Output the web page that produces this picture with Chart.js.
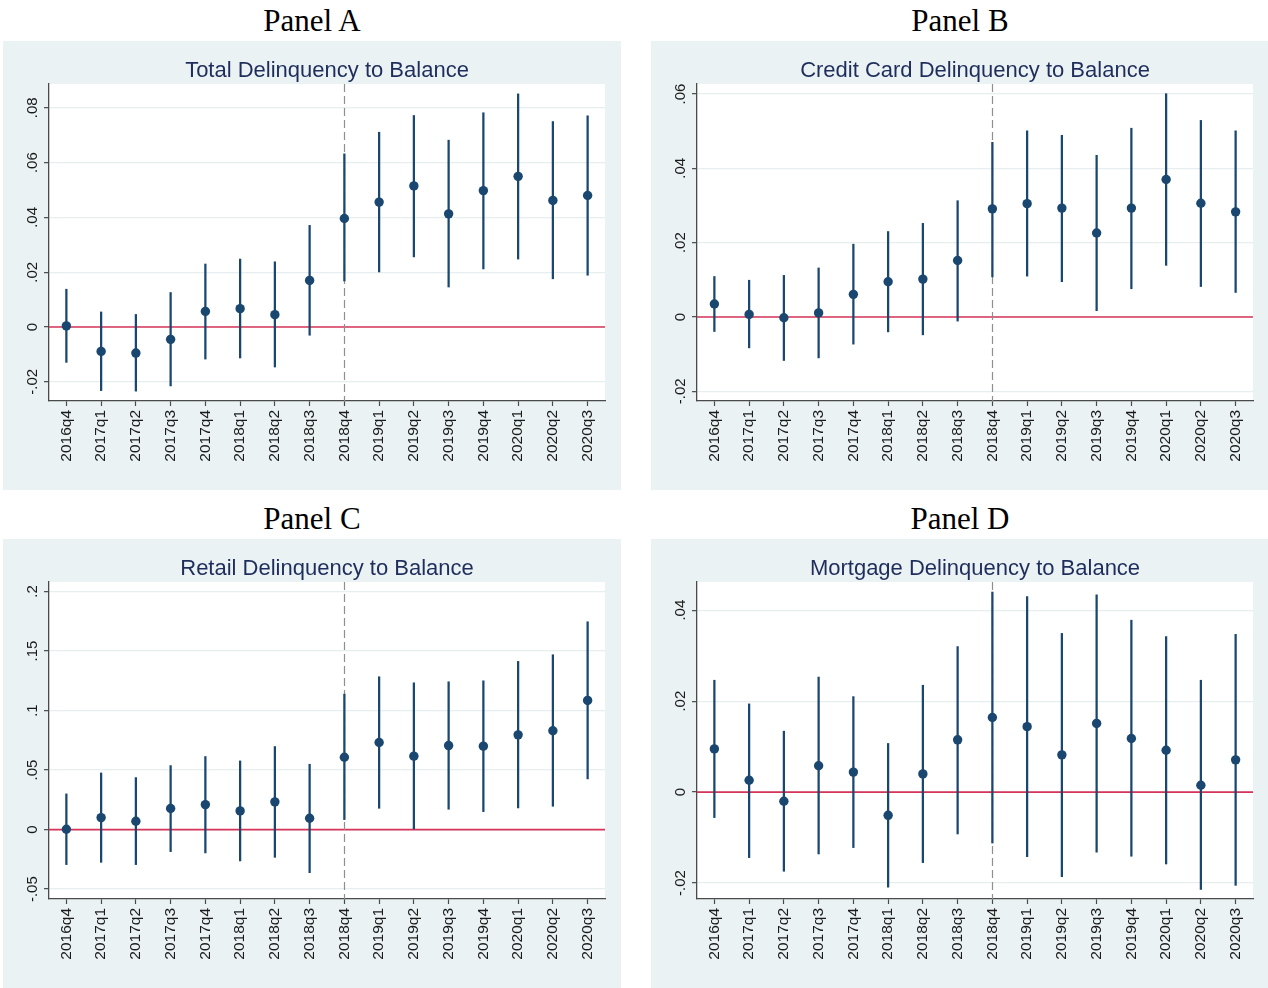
<!DOCTYPE html>
<html>
<head>
<meta charset="utf-8">
<script src="https://cdn.jsdelivr.net/npm/chart.js@4.4.1/dist/chart.umd.min.js"></script>
<style>
  html, body { margin: 0; padding: 0; background: #ffffff; overflow: hidden; }
  body { width: 1268px; height: 988px; position: relative; }
  .panel { position: absolute; width: 618px; height: 449px; background: #EAF2F3; }
  .panel canvas { display: block; }
  .plabel {
    position: absolute; width: 618px; text-align: center;
    font-family: "Liberation Serif", "Times New Roman", serif;
    font-size: 31px; line-height: 31px; color: #000;
  }
</style>
</head>
<body>
<div class="plabel" style="left:3px; top:5px;">Panel A</div>
<div class="plabel" style="left:651px; top:5px;">Panel B</div>
<div class="plabel" style="left:3px; top:503px;">Panel C</div>
<div class="plabel" style="left:651px; top:503px;">Panel D</div>

<div class="panel" style="left:3px; top:41px;"><canvas id="cA" width="618" height="449"></canvas></div>
<div class="panel" style="left:651px; top:41px;"><canvas id="cB" width="618" height="449"></canvas></div>
<div class="panel" style="left:3px; top:539px;"><canvas id="cC" width="618" height="449"></canvas></div>
<div class="panel" style="left:651px; top:539px;"><canvas id="cD" width="618" height="449"></canvas></div>

<script>
// Quarters on the horizontal axis
const quarters = ['2016q4','2017q1','2017q2','2017q3','2017q4','2018q1','2018q2','2018q3',
                  '2018q4','2019q1','2019q2','2019q3','2019q4','2020q1','2020q2','2020q3'];
const eventQuarter = '2018q4';

// Total delinquency to balance: point estimates and confidence bounds
const totalEst = [0.0004, -0.0089, -0.0095, -0.0045, 0.0057, 0.0067, 0.0045, 0.0170,
                  0.0396, 0.0456, 0.0515, 0.0413, 0.0498, 0.0550, 0.0462, 0.0480];
const totalLo  = [-0.0129, -0.0232, -0.0234, -0.0215, -0.0117, -0.0113, -0.0146, -0.0030,
                  0.0168, 0.0201, 0.0256, 0.0146, 0.0212, 0.0248, 0.0176, 0.0189];
const totalHi  = [0.0138, 0.0055, 0.0046, 0.0126, 0.0230, 0.0248, 0.0238, 0.0371,
                  0.0632, 0.0711, 0.0772, 0.0682, 0.0782, 0.0851, 0.0750, 0.0771];
const totalTicks = [-0.02, 0, 0.02, 0.04, 0.06, 0.08];

// Credit card delinquency to balance
const cardEst = [0.0035, 0.0007, -0.0002, 0.0011, 0.0061, 0.0095, 0.0102, 0.0152,
                 0.0291, 0.0305, 0.0293, 0.0226, 0.0293, 0.0370, 0.0306, 0.0283];
const cardLo  = [-0.0039, -0.0083, -0.0117, -0.0110, -0.0073, -0.0040, -0.0048, -0.0011,
                 0.0108, 0.0110, 0.0095, 0.0017, 0.0076, 0.0139, 0.0082, 0.0066];
const cardHi  = [0.0109, 0.0099, 0.0112, 0.0132, 0.0196, 0.0230, 0.0252, 0.0313,
                 0.0470, 0.0501, 0.0489, 0.0435, 0.0508, 0.0601, 0.0529, 0.0501];
const cardTicks = [-0.02, 0, 0.02, 0.04, 0.06];

// Retail delinquency to balance
const retailEst = [0.0003, 0.0101, 0.0070, 0.0177, 0.0210, 0.0157, 0.0233, 0.0095,
                   0.0608, 0.0732, 0.0617, 0.0706, 0.0701, 0.0796, 0.0830, 0.1085];
const retailLo  = [-0.0294, -0.0275, -0.0294, -0.0185, -0.0196, -0.0263, -0.0233, -0.0362,
                   0.0084, 0.0179, 0.0000, 0.0171, 0.0151, 0.0182, 0.0196, 0.0426];
const retailHi  = [0.0300, 0.0476, 0.0437, 0.0538, 0.0614, 0.0577, 0.0698, 0.0549,
                   0.1138, 0.1284, 0.1233, 0.1242, 0.1250, 0.1413, 0.1469, 0.1746];
const retailTicks = [-0.05, 0, 0.05, 0.1, 0.15, 0.2];

// Mortgage delinquency to balance
const mortEst = [0.0095, 0.0026, -0.0020, 0.0058, 0.0044, -0.0051, 0.0040, 0.0115,
                 0.0164, 0.0144, 0.0082, 0.0151, 0.0118, 0.0092, 0.0015, 0.0071];
const mortLo  = [-0.0056, -0.0144, -0.0174, -0.0136, -0.0122, -0.0209, -0.0155, -0.0092,
                 -0.0112, -0.0142, -0.0186, -0.0132, -0.0141, -0.0158, -0.0214, -0.0205];
const mortHi  = [0.0246, 0.0194, 0.0134, 0.0253, 0.0210, 0.0107, 0.0235, 0.0320,
                 0.0440, 0.0430, 0.0349, 0.0434, 0.0378, 0.0342, 0.0246, 0.0347];
const mortTicks = [-0.02, 0, 0.02, 0.04];

const NAVY = '#1a476f';
const TITLE_COLOR = '#1e2d5c';
const TEXT_COLOR = '#1a1a1a';
const AXIS_COLOR = '#4a4a4a';
const GRID_COLOR = '#e6eef0';
const REF_RED = '#d8345a';

// "0.05" -> ".05", "-0.02" -> "-.02"
function fmtTick(v) {
  if (v === 0) return '0';
  return String(v).replace('0.', '.');
}

// White plot region, reference lines and rotated y labels
const decorPlugin = {
  id: 'decor',
  beforeDraw(chart) {
    const a = chart.chartArea, ctx = chart.ctx;
    ctx.save();
    ctx.fillStyle = '#ffffff';
    ctx.fillRect(a.left, a.top, a.right - a.left, a.bottom - a.top);
    ctx.restore();
  },
  beforeDatasetsDraw(chart) {
    const a = chart.chartArea, ctx = chart.ctx;
    const xs = chart.scales.x, ys = chart.scales.y;
    ctx.save();
    // zero line
    const y0 = ys.getPixelForValue(0);
    ctx.strokeStyle = REF_RED;
    ctx.lineWidth = 1.6;
    ctx.beginPath();
    ctx.moveTo(a.left, y0);
    ctx.lineTo(a.right, y0);
    ctx.stroke();
    // event quarter
    const xe = Math.round(xs.getPixelForValue(quarters.indexOf(eventQuarter))) + 0.5;
    ctx.strokeStyle = '#8f8f8f';
    ctx.lineWidth = 1.2;
    ctx.setLineDash([8, 4]);
    ctx.beginPath();
    ctx.moveTo(xe, a.top);
    ctx.lineTo(xe, a.bottom);
    ctx.stroke();
    ctx.restore();
  },
  afterDraw(chart) {
    const ys = chart.scales.y, ctx = chart.ctx;
    ctx.save();
    ctx.fillStyle = TEXT_COLOR;
    ctx.font = '15px "Liberation Sans", Arial, sans-serif';
    ctx.textAlign = 'center';
    ctx.textBaseline = 'middle';
    ys.ticks.forEach(t => {
      const py = ys.getPixelForValue(t.value);
      ctx.save();
      ctx.translate(ys.right - 16.5, py);
      ctx.rotate(-Math.PI / 2);
      ctx.fillText(fmtTick(t.value), 0, 0);
      ctx.restore();
    });
    ctx.restore();
  }
};

function makePanel(id, title, est, lo, hi, tickVals, yMin, yMax) {
  const ranges = lo.map((l, i) => [l, hi[i]]);
  new Chart(document.getElementById(id), {
    type: 'bar',
    data: {
      labels: quarters,
      datasets: [
        {
          type: 'line',
          data: est,
          showLine: false,
          pointRadius: 4.7,
          pointBackgroundColor: NAVY,
          pointBorderWidth: 0,
          borderColor: NAVY,
          order: 0
        },
        {
          type: 'bar',
          data: ranges,
          barThickness: 1.6,
          backgroundColor: NAVY,
          borderWidth: 0,
          order: 1
        }
      ]
    },
    options: {
      responsive: false,
      animation: false,
      events: [],
      layout: { padding: { left: 0, right: 16, top: 0, bottom: 0 } },
      plugins: {
        legend: { display: false },
        tooltip: { enabled: false },
        title: {
          display: true,
          text: title,
          fullSize: false,
          color: TITLE_COLOR,
          font: { family: '"Liberation Sans", Arial, sans-serif', size: 22, weight: 'normal', lineHeight: 1.2 },
          padding: { top: 16.4, bottom: 0.2 }
        }
      },
      scales: {
        x: {
          type: 'category',
          offset: true,
          grid: {
            display: true,
            offset: false,
            drawOnChartArea: false,
            drawTicks: true,
            tickLength: 5,
            tickColor: AXIS_COLOR,
            tickWidth: 1.2
          },
          border: { display: true, color: AXIS_COLOR, width: 1.3 },
          ticks: {
            autoSkip: false,
            minRotation: 90,
            maxRotation: 90,
            padding: 4,
            color: TEXT_COLOR,
            font: { family: '"Liberation Sans", Arial, sans-serif', size: 15.5 }
          },
          afterFit(scale) { scale.height = 89; }
        },
        y: {
          type: 'linear',
          min: yMin,
          max: yMax,
          afterBuildTicks(scale) { scale.ticks = tickVals.map(v => ({ value: v })); },
          grid: {
            color: GRID_COLOR,
            lineWidth: 1.3,
            drawTicks: true,
            tickLength: 5,
            tickColor: AXIS_COLOR,
            tickWidth: 1.2
          },
          border: { display: true, color: AXIS_COLOR, width: 1.3 },
          ticks: { display: false },
          afterFit(scale) { scale.width = 46; }
        }
      }
    },
    plugins: [decorPlugin]
  });
}

makePanel('cA', 'Total Delinquency to Balance', totalEst, totalLo, totalHi, totalTicks, -0.027, 0.0887);
makePanel('cB', 'Credit Card Delinquency to Balance', cardEst, cardLo, cardHi, cardTicks, -0.0226, 0.0627);
makePanel('cC', 'Retail Delinquency to Balance', retailEst, retailLo, retailHi, retailTicks, -0.0583, 0.208);
makePanel('cD', 'Mortgage Delinquency to Balance', mortEst, mortLo, mortHi, mortTicks, -0.0235, 0.0462);
</script>
</body>
</html>
